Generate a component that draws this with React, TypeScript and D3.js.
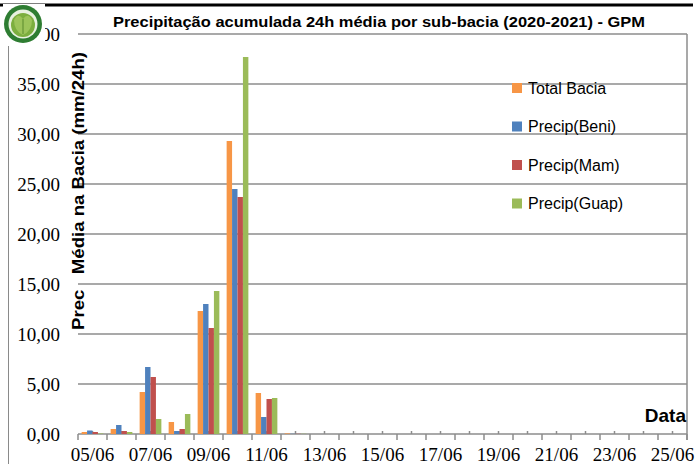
import React from "react";
import * as d3 from "d3";

// dates of the category axis
const dates = [
  "05/06", "06/06", "07/06", "08/06", "09/06", "10/06", "11/06", "12/06",
  "13/06", "14/06", "15/06", "16/06", "17/06", "18/06", "19/06", "20/06",
  "21/06", "22/06", "23/06", "24/06", "25/06",
];

const seriesNames = ["Total Bacia", "Precip(Beni)", "Precip(Mam)", "Precip(Guap)"];
const seriesColors = ["#F79646", "#4F81BD", "#C0504D", "#9BBB59"];

// values per series, one per date (mm/24h)
const totalBacia = [0.2, 0.5, 4.2, 1.2, 12.3, 29.3, 4.1, 0.06, 0, 0, 0, 0, 0, 0, 0, 0, 0, 0, 0, 0, 0];
const precipBeni = [0.35, 0.9, 6.7, 0.3, 13.0, 24.5, 1.7, 0.02, 0, 0, 0, 0, 0, 0, 0, 0, 0, 0, 0, 0, 0];
const precipMam = [0.2, 0.3, 5.7, 0.5, 10.6, 23.7, 3.5, 0.02, 0, 0, 0, 0, 0, 0, 0, 0, 0, 0, 0, 0, 0];
const precipGuap = [0.05, 0.2, 1.5, 2.0, 14.3, 37.7, 3.6, 0.02, 0, 0, 0, 0, 0, 0, 0, 0, 0, 0, 0, 0, 0];

const yTicks = [0, 5, 10, 15, 20, 25, 30, 35, 40];

const title = "Precipitação acumulada 24h média por sub-bacia (2020-2021) - GPM";

export default function App() {
  const width = 695;
  const height = 464;
  const left = 78;
  const right = 687;
  const top = 34;
  const bottom = 434;

  const series = [totalBacia, precipBeni, precipMam, precipGuap];

  const x = d3.scaleBand().domain(dates).range([left, right]).paddingInner(0).paddingOuter(0);
  const xInner = d3
    .scaleBand()
    .domain(seriesNames)
    .range([0, x.bandwidth()])
    .paddingInner(0)
    .paddingOuter(0.67);
  const y = d3.scaleLinear().domain([0, 40]).range([bottom, top]);

  const fmt = (v: number) => d3.format(".2f")(v).replace(".", ",");
  const serif = "'Liberation Serif', 'Times New Roman', serif";
  const sans = "'Liberation Sans', Arial, sans-serif";

  const bounds = dates.map((d) => x(d) as number).concat([right]);

  return (
    <svg
      width={width}
      height={height}
      style={{ position: "absolute", left: 0, top: 0, background: "#fff" }}
    >
      {/* outer frame */}
      <line x1={0} x2={693} y1={5} y2={5} stroke="#000" strokeWidth={3} />
      <line x1={8.5} x2={8.5} y1={44} y2={height} stroke="#8a8a8a" strokeWidth={1} />

      {/* gridlines */}
      {yTicks.map((t) => (
        <line
          key={"g" + t}
          x1={left}
          x2={right}
          y1={y(t)}
          y2={y(t)}
          stroke="#8c8c8c"
          strokeWidth={1.5}
        />
      ))}
      <line x1={right} x2={right} y1={top} y2={bottom + 6} stroke="#8c8c8c" strokeWidth={1.5} />

      {/* y tick labels */}
      {yTicks.map((t) => (
        <text
          key={"yl" + t}
          x={60}
          y={y(t)}
          dy="0.35em"
          textAnchor="end"
          fontFamily={serif}
          fontSize={19}
          fill="#000"
        >
          {fmt(t)}
        </text>
      ))}

      {/* x ticks */}
      {bounds.map((b, i) => (
        <line key={"tb" + i} x1={b} x2={b} y1={bottom} y2={bottom + 6} stroke="#8c8c8c" strokeWidth={1.5} />
      ))}
      {dates.map((d) => {
        const cx = (x(d) as number) + x.bandwidth() / 2;
        return <line key={"tc" + d} x1={cx} x2={cx} y1={bottom - 3} y2={bottom} stroke="#8c8c8c" strokeWidth={1.5} />;
      })}

      {/* bars */}
      {series.map((vals, si) =>
        vals.map((v, di) => (
          <rect
            key={"b" + si + "-" + di}
            x={(x(dates[di]) as number) + (xInner(seriesNames[si]) as number)}
            y={y(v)}
            width={xInner.bandwidth()}
            height={bottom - y(v)}
            fill={seriesColors[si]}
          />
        ))
      )}

      {/* x tick labels, every other day */}
      {dates.map((d, i) =>
        i % 2 === 0 ? (
          <text
            key={"xl" + d}
            x={(x(d) as number) + x.bandwidth() / 2}
            y={461}
            textAnchor="middle"
            fontFamily={serif}
            fontSize={19}
            fill="#000"
          >
            {d}
          </text>
        ) : null
      )}

      {/* title */}
      <text
        x={379}
        y={27}
        textAnchor="middle"
        fontFamily={sans}
        fontWeight="bold"
        fontSize={14}
        textLength={532}
        lengthAdjust="spacingAndGlyphs"
        fill="#000"
      >
        {title}
      </text>

      {/* y axis title */}
      <text
        transform="translate(84,191) rotate(-90)"
        textAnchor="middle"
        fontFamily={sans}
        fontWeight="bold"
        fontSize={16}
        textLength={278}
        lengthAdjust="spacingAndGlyphs"
        style={{ whiteSpace: "pre" }}
        fill="#000"
      >
        {"Prec   Média na Bacia (mm/24h)"}
      </text>

      {/* axis name */}
      <text x={686} y={422} textAnchor="end" fontFamily={sans} fontWeight="bold" fontSize={19} fill="#000">
        Data
      </text>

      {/* legend */}
      {seriesNames.map((n, i) => {
        const ly = 88 + i * 38.5;
        return (
          <g key={"lg" + n}>
            <rect x={512} y={ly - 5} width={10} height={10} fill={seriesColors[i]} />
            <text x={528} y={ly} dy="0.35em" fontFamily={sans} fontSize={16} fill="#000">
              {n}
            </text>
          </g>
        );
      })}

      {/* logo */}
      <g>
        <rect x={3} y={4} width={42} height={42} fill="#fff" />
        <circle cx={23} cy={24} r={19} fill="#2e7d32" />
        <circle cx={23} cy={24} r={14.5} fill="#e8f1e0" />
        <circle cx={23} cy={25} r={12} fill="#7cae3e" />
        <path d="M14,20 Q18,12 23,19 Q28,12 32,20 Q32,31 23,35 Q14,31 14,20 Z" fill="#9cc45a" />
        <path d="M23,19 L23,34" stroke="#5b8a2c" strokeWidth={1} />
      </g>
    </svg>
  );
}
